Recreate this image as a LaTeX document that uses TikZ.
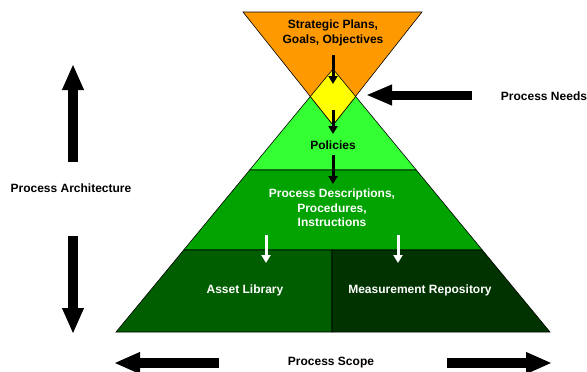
\documentclass[tikz,border=0pt]{standalone}
\usepackage{fontspec}
\setmainfont{Liberation Sans}
\usepackage{xcolor}
\usepackage{tikz}
\usetikzlibrary{shapes,arrows,arrows.meta,positioning}

\definecolor{planorange}{HTML}{FF9900}
\definecolor{needyellow}{HTML}{FFFF00}
\definecolor{policylime}{HTML}{33FF33}
\definecolor{descgreen}{HTML}{00A300}
\definecolor{assetgreen}{HTML}{005E00}
\definecolor{measgreen}{HTML}{003300}

\begin{document}
\begin{tikzpicture}[x=1pt, y=-1pt, font=\fontsize{12}{14.4}\selectfont\bfseries]
    % Define styles
    \tikzstyle{layer} = [draw=black, line width=0.6pt, line join=miter]
    \tikzstyle{label} = [align=center, inner sep=1pt]
    \tikzstyle{flow} = [line width=3pt, -{Triangle[length=8pt, width=9pt]}]
    \tikzstyle{wideflow} = [line width=10pt, -{Triangle[length=26pt, width=20pt]}]
    \useasboundingbox (0,0) rectangle (587,372);

    % Pyramid layers
    \filldraw [layer, fill=policylime] (333,69) -- (249.7,170) -- (416.3,170) -- cycle;
    \filldraw [layer, fill=planorange] (243,12) -- (422,12) -- (333,125) -- cycle;
    \filldraw [layer, fill=needyellow] (333,69) -- (310.3,96.5) -- (333,125) -- (355.7,96.5) -- cycle;
    \filldraw [layer, fill=descgreen] (249.7,170) -- (416.3,170) -- (482.3,250) -- (183.7,250) -- cycle;
    \filldraw [layer, fill=assetgreen] (183.7,250) -- (332,250) -- (332,332) -- (116,332) -- cycle;
    \filldraw [layer, fill=measgreen] (332,250) -- (482.3,250) -- (550,332) -- (332,332) -- cycle;

    % Texts
    \node [label] (plans) at (333,33) {Strategic Plans,\\Goals, Objectives};
    \node [label] (policies) at (333,145) {Policies};
    \node [label, text=white] (descriptions) at (332,208) {Process Descriptions,\\Procedures,\\Instructions};
    \node [label, text=white] (asset) at (245,290) {Asset Library};
    \node [label, text=white] (measurement) at (420,290) {Measurement Repository};
    \node [label] (needs) at (544,96) {Process Needs};
    \node [label] (architecture) at (71,188) {Process Architecture};
    \node [label] (scope) at (331,363) {Process Scope};

    % Arrow ends
    \coordinate (plansout) at (333,55);
    \coordinate (diamondin) at (333,84);
    \coordinate (diamondout) at (333,110);
    \coordinate (policiesin) at (333,134);
    \coordinate (policiesout) at (333,155);
    \coordinate (descin) at (333,184);
    \coordinate (assetout) at (266,235);
    \coordinate (assetin) at (266,263);
    \coordinate (measout) at (398,235);
    \coordinate (measin) at (398,263);
    \coordinate (needstail) at (472,95);
    \coordinate (needstip) at (366,95);
    \coordinate (archup) at (73,162);
    \coordinate (archtop) at (73,64);
    \coordinate (archdown) at (73,236);
    \coordinate (archbottom) at (73,334);
    \coordinate (scopeleft) at (219,363);
    \coordinate (scopelefttip) at (114,363);
    \coordinate (scoperight) at (447,363);
    \coordinate (scoperighttip) at (552,363);

    % Arrows
    \draw [flow] (plansout) -- (diamondin);
    \draw [flow] (diamondout) -- (policiesin);
    \draw [flow] (policiesout) -- (descin);
    \draw [flow, white] (assetout) -- (assetin);
    \draw [flow, white] (measout) -- (measin);
    \draw [wideflow, line width=9pt, -{Triangle[length=26pt, width=19pt]}] (needstail) -- (needstip);
    \draw [wideflow] (archup) -- (archtop);
    \draw [wideflow] (archdown) -- (archbottom);
    \draw [wideflow] (scopeleft) -- (scopelefttip);
    \draw [wideflow] (scoperight) -- (scoperighttip);
\end{tikzpicture}
\end{document}
